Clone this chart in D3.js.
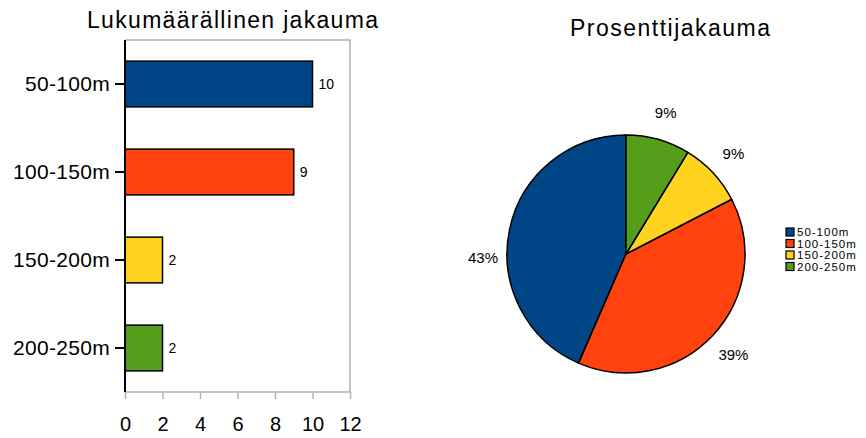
<!DOCTYPE html>
<html>
<head>
<meta charset="utf-8">
<script src="https://cdn.jsdelivr.net/npm/d3@7"></script>
<style>
  body { margin: 0; background: #fff; }
  text { font-family: "Liberation Sans", Arial, sans-serif; fill: #000; }
</style>
</head>
<body>
<div id="chart"></div>
<script>
var categories = ["50-100m", "100-150m", "150-200m", "200-250m"];
var counts = [10, 9, 2, 2];
var colors = ["#004586", "#ff420e", "#ffd320", "#579d1c"];
var xTicks = [0, 2, 4, 6, 8, 10, 12];
var barTitle = "Lukumäärällinen jakauma";
var pieTitle = "Prosenttijakauma";

var w = 866, h = 438;

var svg = d3.select("#chart")
            .append("svg")
            .attr("width", w)
            .attr("height", h);

// widen text a bit, the original export renders wide
function fitWidth(sel, width) {
  sel.each(function () {
    var t = d3.select(this);
    var n = t.text().length;
    var len = this.getComputedTextLength();
    if (n > 1) t.attr("letter-spacing", Math.max(0, (width - len) / (n - 1)));
  });
}
function spacing(sel, px) {
  sel.attr("letter-spacing", px);
}

// ---------- bar chart ----------
var plotL = 125, plotR = 350, plotT = 40, plotB = 392;

var xScale = d3.scaleLinear().domain([0, 12]).range([plotL, plotR]);
var yScale = d3.scaleBand().domain(categories).range([plotT, plotB])
               .paddingInner(0.48).paddingOuter(0.24);

svg.append("text")
   .attr("x", 87).attr("y", 28)
   .attr("font-size", 23)
   .text(barTitle)
   .call(fitWidth, 291);

// frame
svg.append("path")
   .attr("d", "M" + plotL + "," + plotT + "H" + plotR + "V" + plotB + "H" + plotL)
   .attr("fill", "none")
   .attr("stroke", "#b3b3b3")
   .attr("stroke-width", 1.5);

var xAxis = d3.axisBottom(xScale).tickValues(xTicks).tickSize(7).tickPadding(18);
var gx = svg.append("g")
   .attr("transform", "translate(0," + plotB + ")")
   .call(xAxis);
gx.select(".domain").remove();
gx.selectAll("line").attr("stroke", "#b3b3b3").attr("stroke-width", 1.5);
gx.selectAll("text").attr("font-size", 20).attr("fill", "#000");

var bars = svg.selectAll(".bar")
   .data(categories)
   .enter().append("rect")
   .attr("class", "bar")
   .attr("x", xScale(0))
   .attr("y", function (d) { return yScale(d); })
   .attr("width", function (d, i) { return xScale(counts[i]) - xScale(0); })
   .attr("height", yScale.bandwidth())
   .attr("fill", function (d, i) { return colors[i]; })
   .attr("stroke", "#000")
   .attr("stroke-width", 1.5);

svg.selectAll(".val")
   .data(categories)
   .enter().append("text")
   .attr("class", "val")
   .attr("x", function (d, i) { return xScale(counts[i]) + 6; })
   .attr("y", function (d) { return yScale(d) + yScale.bandwidth() / 2; })
   .attr("dy", "0.35em")
   .attr("font-size", 14)
   .text(function (d, i) { return counts[i]; });

var yAxis = d3.axisLeft(yScale).tickSize(10).tickPadding(5);
var gy = svg.append("g")
   .attr("transform", "translate(" + plotL + ",0)")
   .call(yAxis);
gy.select(".domain").attr("stroke-width", 2).attr("d", "M0," + plotT + "V" + plotB);
gy.selectAll("line").attr("stroke-width", 2);
gy.selectAll("text").attr("font-size", 21).attr("fill", "#000").call(spacing, 0.3);

// ---------- pie chart ----------
var cx = 626, cy = 254, r = 119;
var total = d3.sum(counts);

svg.append("text")
   .attr("x", 570).attr("y", 36)
   .attr("font-size", 23)
   .text(pieTitle)
   .call(fitWidth, 200);

var pieData = categories.map(function (c, i) { return { cat: c, value: counts[i], color: colors[i] }; });

var pie = d3.pie().sort(null).value(function (d) { return d.value; })
            .startAngle(2 * Math.PI).endAngle(0);
var arcs = pie(pieData);
var arc = d3.arc().innerRadius(0).outerRadius(r);
var labelArc = d3.arc().innerRadius(r + 28).outerRadius(r + 28);

var gp = svg.append("g").attr("transform", "translate(" + cx + "," + cy + ")");
gp.selectAll("path")
  .data(arcs)
  .enter().append("path")
  .attr("d", arc)
  .attr("fill", function (d) { return d.data.color; })
  .attr("stroke", "#000")
  .attr("stroke-width", 1.5)
  .attr("stroke-linejoin", "round");

gp.selectAll(".plabel")
  .data(arcs)
  .enter().append("text")
  .attr("class", "plabel")
  .attr("transform", function (d) {
    var c = labelArc.centroid(d);
    // big left slice: label sits level with the centre
    if (Math.abs(d.endAngle - d.startAngle) > Math.PI * 0.8 && c[0] < 0) c = [-(r + 24), 4];
    return "translate(" + c + ")";
  })
  .attr("text-anchor", "middle")
  .attr("dy", "0.35em")
  .attr("font-size", 15)
  .text(function (d) { return Math.round(d.value / total * 100) + "%"; });

// legend
var lg = svg.append("g").attr("transform", "translate(786,228)");
var rows = lg.selectAll("g")
  .data(pieData)
  .enter().append("g")
  .attr("transform", function (d, i) { return "translate(0," + (i * 11.5) + ")"; });
rows.append("rect")
  .attr("width", 8).attr("height", 8)
  .attr("fill", function (d) { return d.color; })
  .attr("stroke", "#000")
  .attr("stroke-width", 1.2);
rows.append("text")
  .attr("x", 11).attr("y", 4)
  .attr("dy", "0.35em")
  .attr("font-size", 11.5)
  .text(function (d) { return d.cat; })
  .call(spacing, 1);
</script>
</body>
</html>
